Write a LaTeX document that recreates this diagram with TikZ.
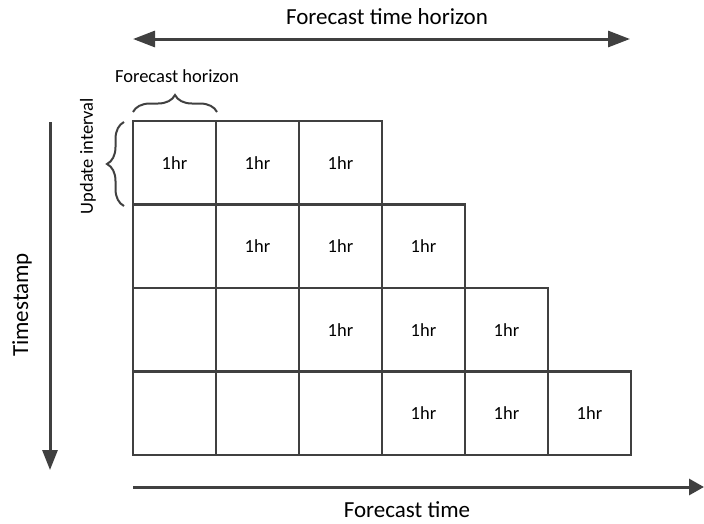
\documentclass[tikz,border=0pt]{standalone}
\usepackage{fontspec}
\setmainfont{Carlito}
\usetikzlibrary{arrows.meta,decorations.pathreplacing}
\definecolor{ink}{HTML}{404040}
\begin{document}
\begin{tikzpicture}[x=1pt,y=-1pt,
  cell/.style={draw=ink,line width=2.4pt,minimum width=83pt,minimum height=83.5pt,
    inner sep=0pt,outer sep=0pt,anchor=north west,font=\fontsize{18.5}{20}\selectfont},
  axisline/.style={draw=ink,line width=3pt},
  bigtext/.style={font=\fontsize{23}{26}\selectfont,inner sep=0pt},
  smalltext/.style={font=\fontsize{18.5}{21}\selectfont,inner sep=0pt},
  bracepath/.style={draw=ink,line width=2pt,decorate,
    decoration={brace,amplitude=17pt,aspect=0.5}}]
\useasboundingbox (0,0) rectangle (704,523);

% grid of cells
\foreach \r/\n in {0/2,1/3,2/4,3/5}{
  \foreach \c in {0,...,\n}{
    \node[cell] (c-\r-\c) at ({133+83*\c},{121+83.5*\r}) {\ifnum\c<\r\else 1hr\fi};
  }
}

% top double arrow
\coordinate (th-l) at (133,39);
\coordinate (th-r) at (630,39);
\draw[axisline,{Triangle[length=22pt,width=16pt]}-{Triangle[length=22pt,width=16pt]}] (th-l) -- (th-r);
\node[bigtext,anchor=base] (fth) at (387,24) {Forecast time horizon};

% bottom arrow
\coordinate (ft-l) at (133,487);
\coordinate (ft-r) at (704,487);
\draw[axisline,-{Triangle[length=15pt,width=16pt]}] (ft-l) -- (ft-r);
\node[bigtext,anchor=base] (ft) at (407,517) {Forecast time};

% vertical arrow
\coordinate (ts-t) at (50,122);
\coordinate (ts-b) at (50,470);
\draw[axisline,-{Triangle[length=20pt,width=15pt]}] (ts-t) -- (ts-b);
\node[bigtext,rotate=90] (ts) at (22,305) {Timestamp};

% braces
\coordinate (hb-l) at (133,112);
\coordinate (hb-r) at (217,112);
\draw[bracepath] (hb-l) -- (hb-r);
\node[smalltext,anchor=base] (fh) at (177,82.5) {Forecast horizon};

\coordinate (ub-b) at (124,206);
\coordinate (ub-t) at (124,122);
\draw[bracepath] (ub-b) -- (ub-t);
\node[smalltext,rotate=90] (ui) at (88,156) {Update interval};
\end{tikzpicture}
\end{document}
